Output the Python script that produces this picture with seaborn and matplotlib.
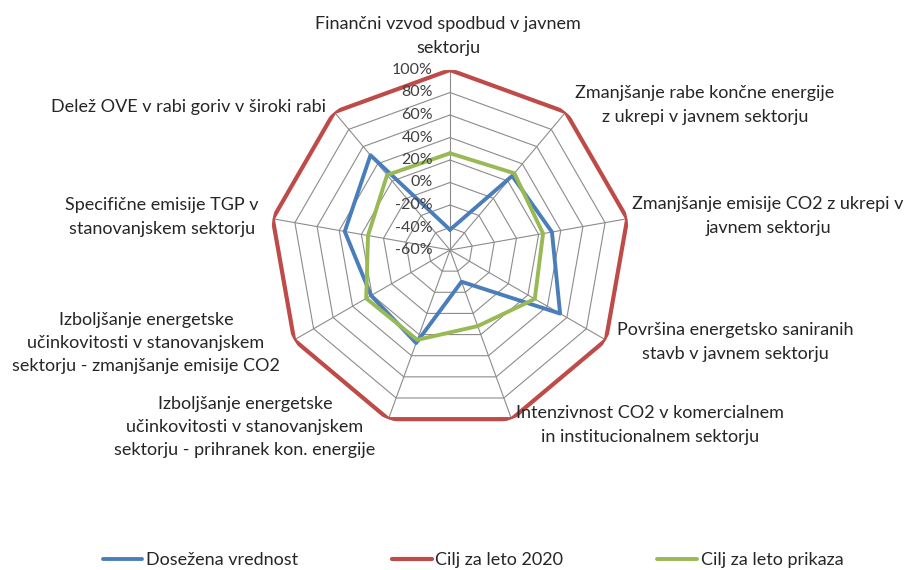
import numpy as np
import pandas as pd
import matplotlib
matplotlib.use("Agg")
import matplotlib.pyplot as plt
import seaborn as sns
from matplotlib.transforms import offset_copy

# ---- data ----
categories = [
    "Finančni vzvod spodbud v javnem\nsektorju",
    "Zmanjšanje rabe končne energije\nz ukrepi v javnem sektorju",
    "Zmanjšanje emisije CO2 z ukrepi v\njavnem sektorju",
    "Površina energetsko saniranih\nstavb v javnem sektorju",
    "Intenzivnost CO2 v komercialnem\nin institucionalnem sektorju",
    "Izboljšanje energetske\nučinkovitosti v stanovanjskem\nsektorju - prihranek kon. energije",
    "Izboljšanje energetske\nučinkovitosti v stanovanjskem\nsektorju - zmanjšanje emisije CO2",
    "Specifične emisije TGP v\nstanovanjskem sektorju",
    "Delež OVE v rabi goriv v široki rabi",
]
achieved = [-42, 26, 32, 53, -30, 28, 21, 35, 50]
target_2020 = [100, 100, 100, 100, 100, 100, 100, 100, 100]
target_display = [26, 29, 24, 27, 12, 25, 26, 14, 27]
series_names = ["Dosežena vrednost", "Cilj za leto 2020", "Cilj za leto prikaza"]
tick_values = [-60, -40, -20, 0, 20, 40, 60, 80, 100]
tick_labels = ["-60%", "-40%", "-20%", "0%", "20%", "40%", "60%", "80%", "100%"]

colors = ["#4A7EBB", "#BE4B48", "#98B954"]
FONT = "Lato"

sns.set_theme(style="white")
plt.rcParams["font.family"] = [FONT, "DejaVu Sans"]

W, H = 913, 570
fig = plt.figure(figsize=(W / 100, H / 100), dpi=100)
cx, cy, R = 450, 250, 180
ax = fig.add_axes([(cx - R) / W, (H - cy - R) / H, 2 * R / W, 2 * R / H], projection="polar")
ax.set_theta_offset(np.pi / 2)
ax.set_theta_direction(-1)
ax.set_ylim(tick_values[0], tick_values[-1])
ax.grid(False)
ax.spines["polar"].set_visible(False)
ax.set_xticks([])
ax.set_yticks([])
ax.set_facecolor("none")

n = len(categories)
theta = np.linspace(0, 2 * np.pi, n, endpoint=False)
theta_closed = np.append(theta, 2 * np.pi)

# polygon gridlines
for v in tick_values[1:]:
    ax.plot(theta_closed, [v] * (n + 1), color="#8C8C8C", lw=0.8, zorder=1)
for t in theta:
    ax.plot([t, t], [tick_values[0], tick_values[-1]], color="#8C8C8C", lw=0.8, zorder=1)

rows = []
for name, vals in zip(series_names, [achieved, target_2020, target_display]):
    for i, t in enumerate(theta_closed):
        rows.append({"theta": t, "value": vals[i % n], "series": name})
df = pd.DataFrame(rows)

lws = [2.8, 3.0, 2.8]
zs = [4, 3, 5]
for name, c, lw, z in zip(series_names, colors, lws, zs):
    sub = df[df["series"] == name]
    sns.lineplot(data=sub, x="theta", y="value", ax=ax, sort=False, color=c, lw=lw,
                 label=name, zorder=z, estimator=None)
ax.set_xlabel("")
ax.set_ylabel("")
handles, labels = ax.get_legend_handles_labels()
ax.get_legend().remove()

# radial tick labels along top spoke
toff = offset_copy(ax.transData, fig=fig, x=-17, y=0, units="dots")
for v, lab in zip(tick_values, tick_labels):
    ax.text(0, v, lab, transform=toff, ha="right", va="center", fontsize=11.5,
            color="#404040", zorder=6)

# category labels
label_pos = [(448, 36), (705, 105), (768, 216), (735, 342), (650, 425),
             (245, 427), (146, 343), (162, 217), (188, 107)]
for lab, (x, y) in zip(categories, label_pos):
    fig.text(x / W, 1 - y / H, lab, ha="center", va="center", fontsize=13,
             color="#262626", linespacing=1.55)

fig.legend(handles, labels, loc="center", bbox_to_anchor=(473 / W, 1 - 560 / H), ncol=3,
           frameon=False, fontsize=13, handlelength=2.2, handletextpad=0.2,
           columnspacing=5.2, labelcolor="#262626", borderpad=0.1)

fig.savefig("out.png", dpi=100, facecolor="white")
